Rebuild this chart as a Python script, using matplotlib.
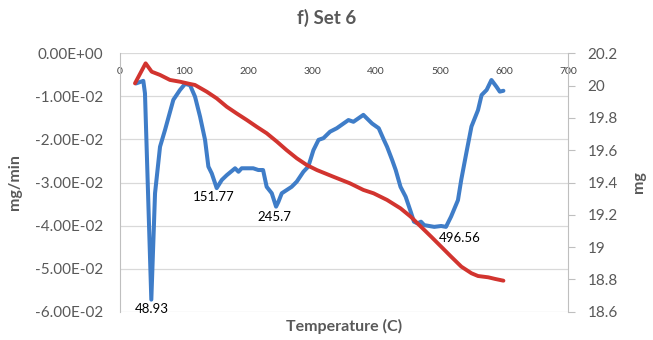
import matplotlib.pyplot as plt
from matplotlib.ticker import FuncFormatter

plt.rcParams['font.family'] = ['Lato', 'DejaVu Sans']

# derivative curve (mg/min) vs temperature
temp_rate = [25, 36.4, 39, 48.9, 54.7, 62.5, 70.3, 83.3, 93.75, 101.6, 109.4, 117.2,
             125, 132.8, 138, 143.3, 151, 159, 166.7, 179.7, 185, 190, 208, 216,
             223.4, 229, 237, 243.7, 247.3, 252.6, 268, 276, 286.4, 294, 302, 310,
             317.7, 328, 338.5, 349, 356.7, 364.5, 380, 393.6, 404, 412, 417, 425,
             430.5, 438, 446, 454, 459, 464.6, 470, 475, 490.7, 501.5, 509, 517,
             527.7, 532.8, 540.7, 548.8, 559, 564.6, 572.5, 580, 588, 593, 598.7]
rate = [-0.0070, -0.0064, -0.0093, -0.0572, -0.0325, -0.0217, -0.0178, -0.0108,
        -0.0085, -0.0071, -0.0074, -0.0101, -0.0147, -0.0201, -0.0263, -0.0279,
        -0.0313, -0.0294, -0.0283, -0.0267, -0.0275, -0.0267, -0.0267, -0.0271,
        -0.0271, -0.0310, -0.0325, -0.0356, -0.0345, -0.0325, -0.0310, -0.0298,
        -0.0275, -0.0263, -0.0225, -0.0201, -0.0197, -0.0182, -0.0174, -0.0163,
        -0.0155, -0.0159, -0.0143, -0.0163, -0.0174, -0.0201, -0.0217, -0.0248,
        -0.0271, -0.0310, -0.0333, -0.0368, -0.0391, -0.0395, -0.0391, -0.0399,
        -0.0403, -0.0401, -0.0403, -0.0379, -0.0341, -0.0294, -0.0232, -0.0170,
        -0.0132, -0.0097, -0.0085, -0.0062, -0.0078, -0.0089, -0.0087]

# mass curve (mg) vs temperature
temp_mass = [23.4, 40, 49.5, 62.5, 78, 93.75, 109.4, 117, 135.5, 151, 166.7, 182,
             198, 213.5, 229, 245, 260, 276, 291.7, 307.5, 333, 359, 380, 396,
             417, 438, 454, 470, 486, 501.4, 517, 533, 548.8, 559, 575, 585.6, 598.7]
mass = [20.014, 20.138, 20.086, 20.066, 20.035, 20.024, 20.010, 20.004, 19.962,
        19.921, 19.869, 19.828, 19.787, 19.745, 19.705, 19.653, 19.601, 19.550,
        19.508, 19.477, 19.436, 19.395, 19.354, 19.333, 19.292, 19.240, 19.188,
        19.126, 19.064, 19.003, 18.941, 18.879, 18.838, 18.821, 18.813, 18.803,
        18.792]

peak_text = ['48.93', '151.77', '245.7', '496.56']
peak_x = [49, 146, 241, 530]
peak_y = [-0.0594, -0.0333, -0.0380, -0.0428]

rate_ticks = [-0.06, -0.05, -0.04, -0.03, -0.02, -0.01, 0.0]
mass_ticks = [18.6, 18.8, 19.0, 19.2, 19.4, 19.6, 19.8, 20.0, 20.2]
temp_ticks = [0, 100, 200, 300, 400, 500, 600, 700]

blue = '#3F7DC8'
red = '#D2342F'
grey = '#595959'
light = '#D9D9D9'

fig = plt.figure(figsize=(6.53, 3.4), dpi=100)
ax = fig.add_axes([120 / 653, 1 - 311.7 / 340, 448.3 / 653, 258.4 / 340])

ax.plot(temp_rate, rate, color=blue, lw=2.9, solid_joinstyle='round', solid_capstyle='round')
ax.set_xlim(0, 700)
ax.set_ylim(-0.06, 0)
ax.set_yticks(rate_ticks)
ax.yaxis.set_major_formatter(FuncFormatter(lambda v, p: '%.2E' % v if abs(v) > 1e-9 else '0.00E+00'))
ax.set_xticks(temp_ticks)
ax.grid(axis='y', color=light, lw=0.9)
ax.tick_params(axis='y', length=0, pad=12, labelsize=11, labelcolor=grey)
ax.tick_params(axis='x', top=True, labeltop=True, bottom=False, labelbottom=False,
               length=0, pad=-16, labelsize=7.5, labelcolor='#454545')
for s in ['top', 'bottom', 'right']:
    ax.spines[s].set_visible(False)
ax.spines['left'].set_color('#BFBFBF')

for t, x, y in zip(peak_text, peak_x, peak_y):
    ax.text(x, y, t, ha='center', va='center', fontsize=9.5, color='black')

ax2 = ax.twinx()
ax2.plot(temp_mass, mass, color=red, lw=2.8, solid_joinstyle='round', solid_capstyle='round')
ax2.set_ylim(18.6, 20.2)
ax2.set_yticks(mass_ticks)
ax2.yaxis.set_major_formatter(FuncFormatter(lambda v, p: '%g' % round(v, 1)))
ax2.tick_params(axis='y', length=5, color='#BFBFBF', pad=9, labelsize=11, labelcolor=grey)
for s in ['top', 'bottom', 'left']:
    ax2.spines[s].set_visible(False)
ax2.spines['right'].set_color('#BFBFBF')

fig.text(0.5, 1 - 18 / 340, 'f) Set 6', ha='center', va='center', fontsize=13.5,
         fontweight='bold', color=grey)
fig.text(344 / 653, 1 - 326 / 340, 'Temperature (C)', ha='center', va='center',
         fontsize=11.5, fontweight='bold', color=grey)
fig.text(15 / 653, 1 - 182 / 340, 'mg/min', ha='center', va='center', rotation=90,
         fontsize=11.5, fontweight='bold', color=grey)
fig.text(639 / 653, 1 - 182 / 340, 'mg', ha='center', va='center', rotation=90,
         fontsize=11.5, fontweight='bold', color=grey)

fig.savefig('out.png', dpi=100)
